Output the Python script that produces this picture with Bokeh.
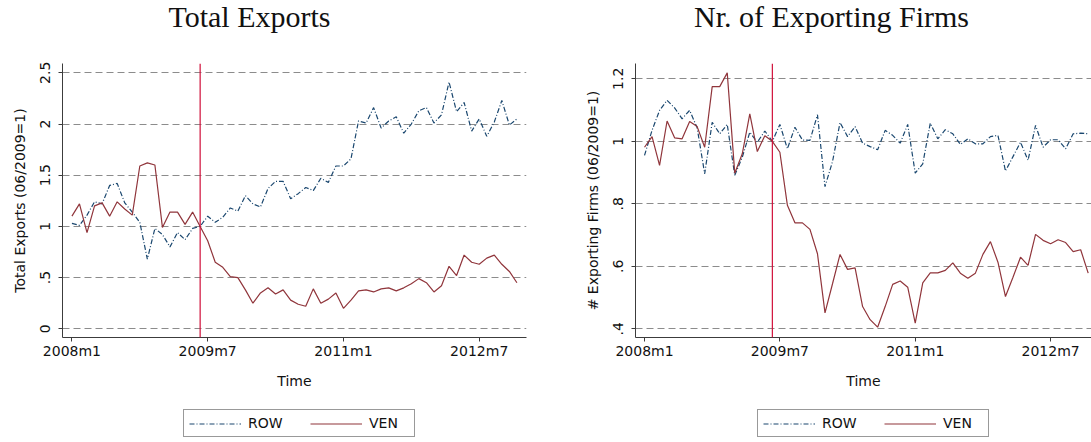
from bokeh.plotting import figure
from bokeh.layouts import row, column
from bokeh.models import FixedTicker, Span, Legend, LegendItem, Range1d
from bokeh.embed import file_html
from bokeh.resources import INLINE
from bokeh.core.properties import value

# ---------------- data ----------------
months = list(range(60))  # 0 = 2008m1 ... 59 = 2012m12
x_ticks = [0, 18, 36, 54]
x_tick_labels = ["2008m1", "2009m7", "2011m1", "2012m7"]
base_month = 17  # 2009m6

ven_exports = [1.10, 1.22, 0.94, 1.20, 1.23, 1.10, 1.24, 1.17, 1.11, 1.59,
               1.62, 1.60, 0.99, 1.14, 1.14, 1.02, 1.14, 1.00, 0.86, 0.65,
               0.60, 0.51, 0.50, 0.38, 0.25, 0.35, 0.40, 0.34, 0.38, 0.28,
               0.24, 0.22, 0.39, 0.25, 0.29, 0.35, 0.20, 0.28, 0.37, 0.38,
               0.36, 0.39, 0.40, 0.37, 0.40, 0.44, 0.49, 0.45, 0.36, 0.42,
               0.61, 0.52, 0.72, 0.65, 0.63, 0.69, 0.72, 0.63, 0.56, 0.45]
row_exports = [1.03, 1.01, 1.11, 1.24, 1.22, 1.40, 1.42, 1.23, 1.14, 1.04,
               0.68, 0.98, 0.92, 0.80, 0.94, 0.87, 0.98, 1.00, 1.10, 1.04,
               1.09, 1.18, 1.15, 1.30, 1.22, 1.19, 1.37, 1.44, 1.44, 1.27,
               1.32, 1.38, 1.35, 1.47, 1.43, 1.59, 1.59, 1.66, 2.03, 2.01,
               2.16, 1.96, 2.03, 2.07, 1.91, 2.00, 2.13, 2.16, 2.01, 2.09,
               2.41, 2.12, 2.21, 1.93, 2.05, 1.88, 2.02, 2.23, 1.99, 2.05]
ven_firms = [0.981, 1.015, 0.923, 1.065, 1.011, 1.008, 1.063, 1.047, 0.981, 1.175,
             1.175, 1.219, 0.898, 0.960, 1.088, 0.967, 1.018, 1.000, 0.965, 0.795,
             0.739, 0.739, 0.718, 0.640, 0.451, 0.544, 0.638, 0.590, 0.595, 0.471,
             0.429, 0.405, 0.471, 0.542, 0.553, 0.533, 0.418, 0.547, 0.579, 0.579,
             0.587, 0.611, 0.578, 0.562, 0.578, 0.638, 0.679, 0.613, 0.503, 0.565,
             0.629, 0.603, 0.702, 0.683, 0.672, 0.685, 0.676, 0.647, 0.653, 0.578]
row_firms = [0.955, 1.035, 1.099, 1.131, 1.107, 1.072, 1.099, 1.043, 0.896, 1.061,
             1.024, 1.054, 0.891, 0.949, 1.029, 0.997, 1.033, 1.000, 1.054, 0.976,
             1.045, 1.004, 1.003, 1.085, 0.855, 0.935, 1.060, 1.015, 1.047, 0.994,
             0.983, 0.973, 1.035, 1.019, 0.994, 1.054, 0.898, 0.928, 1.058, 1.008,
             1.037, 1.024, 0.990, 1.008, 0.992, 0.992, 1.015, 1.019, 0.905, 0.951,
             0.997, 0.939, 1.051, 0.981, 1.005, 1.005, 0.976, 1.024, 1.026, 1.024]

exp_ticks = [0, 0.5, 1, 1.5, 2, 2.5]
exp_tick_labels = ["0", ".5", "1", "1.5", "2", "2.5"]
firm_ticks = [0.4, 0.6, 0.8, 1.0, 1.2]
firm_tick_labels = [".4", ".6", ".8", "1", "1.2"]

series_names = ["ROW", "VEN"]
panel_titles = ["Total Exports", "Nr. of Exporting Firms"]

# ---------------- style ----------------
ROW_COLOR = "#1a476f"
VEN_COLOR = "#90353b"
VLINE_COLOR = "#d0103a"
AXIS_COLOR = "#3c3c3c"
GRID_COLOR = "#8c8c8c"
SANS = "DejaVu Sans"
SERIF = "Liberation Serif"
ROW_DASH = "5 2 1 2"

HEADER_H = 40
MAIN_H = 360
LEGEND_H = 41
FRAME_TOP = 63 - HEADER_H
FRAME_H = 274


def bare_figure(width, height, xr, yr):
    f = figure(width=width, height=height, output_backend="svg",
               toolbar_location=None, x_axis_type=None, y_axis_type=None,
               x_range=Range1d(*xr), y_range=Range1d(*yr),
               min_border=0)
    f.outline_line_color = None
    f.background_fill_color = "white"
    f.border_fill_color = "white"
    return f


def make_header(width, title, cx):
    h = bare_figure(width, HEADER_H, (0, width), (0, HEADER_H))
    h.text(x=[cx], y=[HEADER_H - 16], text=[title],
           text_font=value(SERIF), text_font_size="30px",
           text_align="center", text_baseline="alphabetic",
           text_color="#111111")
    return h


def make_legend_fig(width, left, ven, rowv):
    # ranges chosen so that the series themselves stay out of view;
    # only the legend box of this strip is visible
    lf = bare_figure(width, LEGEND_H, (-20, -19), (0, 1))
    r_row = lf.line(months, rowv, line_color=ROW_COLOR, line_width=1.2,
                    line_dash=ROW_DASH)
    r_ven = lf.line(months, ven, line_color=VEN_COLOR, line_width=1.2)
    legend = Legend(items=[LegendItem(label=series_names[0], renderers=[r_row]),
                           LegendItem(label=series_names[1], renderers=[r_ven])],
                    orientation="horizontal", location=(left, 4))
    legend.label_text_font = SANS
    legend.label_text_font_size = "14px"
    legend.label_text_color = "#111111"
    legend.border_line_color = "#333333"
    legend.border_line_width = 1
    legend.background_fill_color = "white"
    legend.background_fill_alpha = 1
    legend.padding = 5
    legend.spacing = 22
    legend.margin = 0
    legend.glyph_width = 52
    legend.glyph_height = 15
    legend.label_height = 15
    legend.label_width = 40
    legend.label_standoff = 7
    lf.add_layout(legend)
    return lf


def make_panel(width, border_left, frame_w, x_range, y_range, yticks, ylabels,
               ylabel, ven, rowv):
    p = figure(width=width, height=MAIN_H, output_backend="svg",
               toolbar_location=None,
               x_range=Range1d(*x_range), y_range=Range1d(*y_range),
               min_border_left=border_left,
               min_border_right=width - border_left - frame_w,
               min_border_top=FRAME_TOP,
               min_border_bottom=MAIN_H - FRAME_TOP - FRAME_H)
    p.outline_line_color = None
    p.background_fill_color = "white"
    p.border_fill_color = "white"
    p.xgrid.visible = False
    p.ygrid.grid_line_color = GRID_COLOR
    p.ygrid.grid_line_dash = "7 4"
    p.ygrid.grid_line_width = 1

    xax = p.xaxis[0]
    yax = p.yaxis[0]
    for ax in (xax, yax):
        ax.axis_line_color = AXIS_COLOR
        ax.axis_line_width = 1
        ax.major_tick_line_color = AXIS_COLOR
        ax.major_tick_in = 0
        ax.major_tick_out = 4
        ax.minor_tick_line_color = None
        ax.major_label_text_font = SANS
        ax.major_label_text_font_size = "14px"
        ax.major_label_text_color = "#111111"
        ax.axis_label_text_font = SANS
        ax.axis_label_text_font_size = "14px"
        ax.axis_label_text_font_style = "normal"
        ax.axis_label_text_color = "#111111"

    xax.ticker = FixedTicker(ticks=x_ticks)
    xax.major_label_overrides = dict(zip(x_ticks, x_tick_labels))
    xax.axis_label = "Time"
    xax.major_label_standoff = 1
    xax.axis_label_standoff = 11

    yax.ticker = FixedTicker(ticks=yticks)
    yax.major_label_overrides = dict(zip(yticks, ylabels))
    yax.major_label_orientation = "vertical"
    yax.axis_label = ylabel
    yax.major_label_standoff = 8
    yax.axis_label_standoff = 10

    p.line(months, rowv, line_color=ROW_COLOR, line_width=1.2, line_dash=ROW_DASH)
    p.line(months, ven, line_color=VEN_COLOR, line_width=1.2)

    p.add_layout(Span(location=base_month, dimension="height",
                      line_color=VLINE_COLOR, line_width=1.2))
    return p


W1, W2 = 550, 541

h1 = make_header(W1, panel_titles[0], 249)
h2 = make_header(W2, panel_titles[1], 281)

p1 = make_panel(W1, 62, 464, (-1.25, 60.27), (-0.085, 2.591),
                exp_ticks, exp_tick_labels, "Total Exports (06/2009=1)",
                ven_exports, row_exports)
p2 = make_panel(W2, 85, 456, (-1.2, 59.44), (0.372, 1.249),
                firm_ticks, firm_tick_labels, "# Exporting Firms (06/2009=1)",
                ven_firms, row_firms)

l1 = make_legend_fig(W1, 183, ven_exports, row_exports)
l2 = make_legend_fig(W2, 207, ven_firms, row_firms)

layout = column(row(h1, h2), row(p1, p2), row(l1, l2))
open("out.html", "w").write(file_html(layout, INLINE))
